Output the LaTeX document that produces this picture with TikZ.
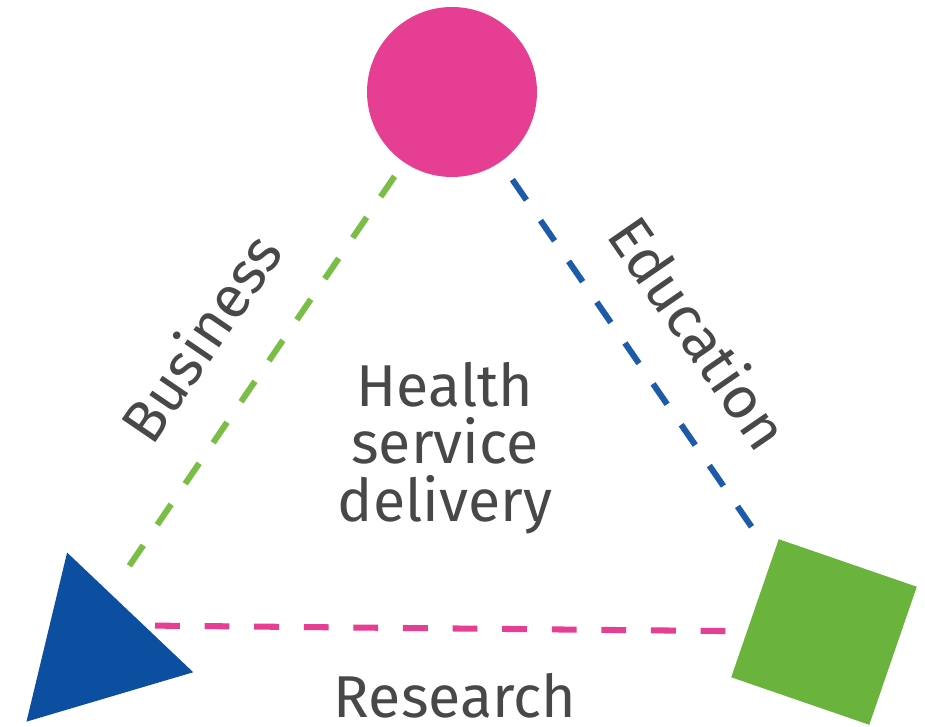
\documentclass[tikz,border=0pt]{standalone}
\usepackage{fontspec}
\setmainfont{Fira Sans}
\usetikzlibrary{shapes.geometric}
\definecolor{hpink}{RGB}{230,62,146}
\definecolor{hblue}{RGB}{12,78,160}
\definecolor{hgreen}{RGB}{106,180,62}
\definecolor{hlgreen}{RGB}{122,190,72}
\definecolor{hlblue}{RGB}{30,90,170}
\definecolor{htext}{RGB}{72,72,72}

\begin{document}
\begin{tikzpicture}[
    lbl/.style={text=htext,font=\fontsize{42}{41}\selectfont},
    link/.style={line width=4.3pt,dash pattern=on 0.62cm off 0.62cm}]
    \useasboundingbox (0,0) rectangle (23.125,18.15);
    \node[circle,fill=hpink,minimum size=4.25cm,inner sep=0] (circ) at (11.3,15.85) {};
    \node[regular polygon,regular polygon sides=3,shape border rotate=16.5,fill=hblue,minimum size=5.02cm,inner sep=0] (tri) at (2.39,1.93) {};
    \node[rectangle,rotate=-19,fill=hgreen,minimum size=3.65cm,inner sep=0] (sq) at (20.6,2.35) {};
    \coordinate (hub) at (2.225,2.525);
    \draw[link,draw=hlgreen,shorten <=2.55cm,shorten >=1.43cm] (circ.center) -- (hub);
    \draw[link,draw=hlblue,shorten <=2.66cm,shorten >=2.74cm] (circ.center) -- (sq.center);
    \draw[link,draw=hpink,shorten <=1.65cm,shorten >=2.1cm] (hub) -- (sq.center);
    \node[lbl,rotate=55.7] (business) at (5.0,9.725) {Business};
    \node[lbl,rotate=-55.4] (education) at (17.5,9.85) {Education};
    \node[lbl,align=center] (health) at (11.125,6.95) {Health\\service\\delivery};
    \node[lbl] (research) at (11.375,0.76) {Research};
\end{tikzpicture}
\end{document}
